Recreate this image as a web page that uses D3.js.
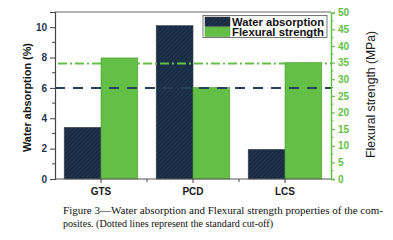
<!DOCTYPE html>
<html><head><meta charset="utf-8">
<script src="https://cdn.jsdelivr.net/npm/d3@7"></script>
<style>body{margin:0;background:#fff}svg{display:block}</style>
</head><body><svg id="c" width="393" height="240"></svg>
<script>
const categories = ["GTS", "PCD", "LCS"];
const waterAbsorption = [3.4, 10.1, 1.95];
const flexuralStrength = [36.4, 27.5, 35.0];
const waterCutoff = 6;
const flexuralCutoff = 34.7;
const leftTicks = [0, 2, 4, 6, 8, 10];
const rightTicks = [0, 5, 10, 15, 20, 25, 30, 35, 40, 45, 50];
const seriesNames = ["Water absorption", "Flexural strength"];
const captionLines = ["Figure 3\u2014Water absorption and Flexural strength properties of the com-",
                      "posites. (Dotted lines represent the standard cut-off)"];

const navy = "#182a42", green = "#63bf45", axisNavy = "#1f3550";
const svg = d3.select("#c");
const L = 55, R = 331, T = 12, B = 179;

const x = d3.scaleBand().domain(categories).range([L, R]).paddingInner(0.2).paddingOuter(0.1);
const yL = d3.scaleLinear().domain([0, 11]).range([B, T]);
const yR = d3.scaleLinear().domain([0, 50]).range([B, T + 0.7]);

const defs = svg.append("defs");
const pat = defs.append("pattern").attr("id", "hatch").attr("patternUnits", "userSpaceOnUse")
  .attr("width", 3).attr("height", 3).attr("patternTransform", "rotate(45)");
pat.append("rect").attr("width", 3).attr("height", 3).attr("fill", navy);
pat.append("line").attr("x1", 0).attr("y1", 0).attr("x2", 0).attr("y2", 3)
  .attr("stroke", "#2f4663").attr("stroke-width", 1);

const bw = x.bandwidth() / 2;
// bars
svg.append("g").selectAll("rect").data(categories).join("rect")
  .attr("x", d => x(d)).attr("width", bw)
  .attr("y", (d, i) => yL(waterAbsorption[i])).attr("height", (d, i) => B - yL(waterAbsorption[i]))
  .attr("fill", "url(#hatch)").attr("stroke", "#3a3f47").attr("stroke-width", 0.6);
svg.append("g").selectAll("rect").data(categories).join("rect")
  .attr("x", d => x(d) + bw).attr("width", bw)
  .attr("y", (d, i) => yR(flexuralStrength[i])).attr("height", (d, i) => B - yR(flexuralStrength[i]))
  .attr("fill", green).attr("stroke", "#4f9a38").attr("stroke-width", 0.6);

// cutoff lines
svg.append("line").attr("x1", L).attr("x2", R).attr("y1", yL(waterCutoff)).attr("y2", yL(waterCutoff))
  .attr("stroke", "#24405c").attr("stroke-width", 2).attr("stroke-dasharray", "10,8");
svg.append("line").attr("x1", L + 3).attr("x2", R).attr("y1", yR(flexuralCutoff)).attr("y2", yR(flexuralCutoff))
  .attr("stroke", green).attr("stroke-width", 2).attr("stroke-dasharray", "9,3,2,3");

// frame
svg.append("line").attr("x1", L).attr("x2", R).attr("y1", T).attr("y2", T).attr("stroke", "#666").attr("stroke-width", 1);
svg.append("line").attr("x1", L).attr("x2", R).attr("y1", B).attr("y2", B).attr("stroke", "#555").attr("stroke-width", 1.2);

// left axis
const gl = svg.append("g").attr("transform", `translate(${L},0)`)
  .call(d3.axisLeft(yL).tickValues(leftTicks).tickSize(5).tickPadding(3).tickFormat(d3.format("d")));
gl.select(".domain").attr("stroke", "#444").attr("stroke-width", 1.2);
gl.selectAll(".tick line").attr("stroke", "#444");
gl.selectAll("text").attr("fill", axisNavy).style("font", "bold 10px Arial, 'Liberation Sans', sans-serif");
gl.selectAll(".minor").data([1, 3, 5, 7, 9]).join("line").attr("class", "minor")
  .attr("x1", 0).attr("x2", -3).attr("y1", d => yL(d)).attr("y2", d => yL(d)).attr("stroke", "#444");

// right axis
const gr = svg.append("g").attr("transform", `translate(${R},0)`)
  .call(d3.axisRight(yR).tickValues(rightTicks).tickSize(4).tickPadding(3).tickFormat(d3.format("d")));
gr.select(".domain").attr("stroke", green).attr("stroke-width", 1.5);
gr.selectAll(".tick line").attr("stroke", green).attr("stroke-width", 1.2);
gr.selectAll("text").attr("fill", green).style("font", "bold 10px Arial, 'Liberation Sans', sans-serif");
gr.selectAll(".minor").data(rightTicks.slice(0, -1).map(v => v + 2.5)).join("line").attr("class", "minor")
  .attr("x1", 0).attr("x2", 2.5).attr("y1", d => yR(d)).attr("y2", d => yR(d)).attr("stroke", green);

// bottom axis
const gb = svg.append("g").attr("transform", `translate(0,${B})`)
  .call(d3.axisBottom(x).tickSize(4).tickPadding(5));
gb.select(".domain").remove();
gb.selectAll(".tick line").attr("stroke", "#444");
gb.selectAll("text").attr("fill", "#1a1a1a").style("font", "bold 10px Arial, 'Liberation Sans', sans-serif");
gb.selectAll(".minor").data(categories.slice(1)).join("line").attr("class", "minor")
  .attr("x1", d => x(d) - x.step() * x.paddingInner() / 2).attr("x2", d => x(d) - x.step() * x.paddingInner() / 2)
  .attr("y1", 0).attr("y2", 3).attr("stroke", "#444");

// axis titles
svg.append("text").attr("transform", `translate(31,${(T + B) / 2 + 2}) rotate(-90)`)
  .attr("text-anchor", "middle").attr("fill", "#111")
  .attr("textLength", 109).attr("lengthAdjust", "spacingAndGlyphs")
  .style("font", "bold 11.5px Arial, 'Liberation Sans', sans-serif").text("Water absorption (%)");
svg.append("text").attr("transform", `translate(375,${(T + B) / 2 - 1}) rotate(-90)`)
  .attr("text-anchor", "middle").attr("fill", "#222")
  .attr("textLength", 127).attr("lengthAdjust", "spacingAndGlyphs")
  .style("font", "12px Arial, 'Liberation Sans', sans-serif").text("Flexural strength (MPa)");

// legend
const lg = svg.append("g");
lg.append("rect").attr("x", 203).attr("y", 15.5).attr("width", 124).attr("height", 22)
  .attr("fill", "#fff").attr("stroke", "#555").attr("stroke-width", 0.8);
const fills = ["url(#hatch)", green];
seriesNames.forEach((s, i) => {
  lg.append("rect").attr("x", 205).attr("y", 17 + i * 10).attr("width", 25).attr("height", 9.5)
    .attr("fill", fills[i]).attr("stroke", i ? "#4f9a38" : "#333").attr("stroke-width", 0.5);
  lg.append("text").attr("x", 232).attr("y", 25.5 + i * 10).attr("fill", "#111")
    .attr("textLength", 92).attr("lengthAdjust", "spacingAndGlyphs")
    .style("font", "bold 10px Arial, 'Liberation Sans', sans-serif").text(s);
});

// caption
const capLen = [320, 210];
captionLines.forEach((t, i) => {
  svg.append("text").attr("x", 63).attr("y", 214 + i * 13).attr("fill", "#111")
    .attr("textLength", capLen[i]).attr("lengthAdjust", "spacingAndGlyphs")
    .style("font", "11px 'Liberation Serif', 'DejaVu Serif', serif").text(t);
});
</script></body></html>
